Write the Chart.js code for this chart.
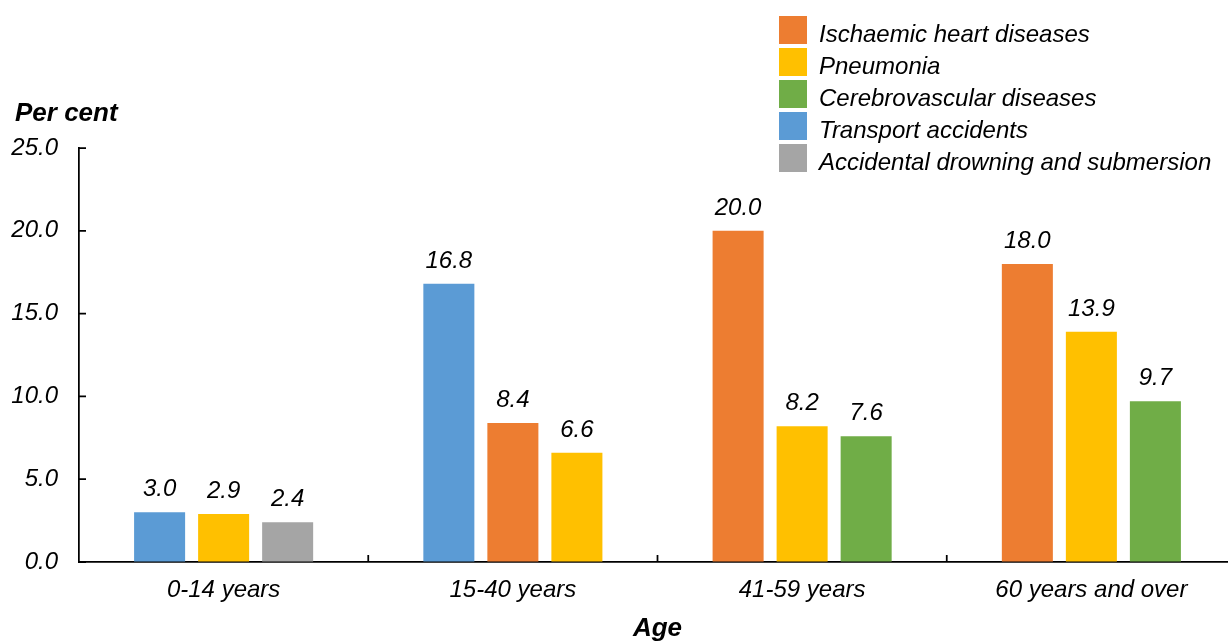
<!DOCTYPE html>
<html><head><meta charset="utf-8">
<script src="https://cdn.jsdelivr.net/npm/chart.js@4.4.1/dist/chart.umd.min.js"></script>
<style>
html,body{margin:0;padding:0;overflow:hidden;background:#fff;width:1228px;height:641px}
#wrap{position:relative;width:1236px;height:641px}
</style></head>
<body><div id="wrap"><canvas id="c"></canvas></div>
<script>
// ---- data ----
const categories = ['0-14 years', '15-40 years', '41-59 years', '60 years and over'];
const transportAccidents = [3.0, 16.8, null, null];
const ischaemicHeart = [null, 8.4, 20.0, 18.0];
const pneumonia = [2.9, 6.6, 8.2, 13.9];
const cerebrovascular = [null, null, 7.6, 9.7];
const drowning = [2.4, null, null, null];
const yTicks = [0, 5, 10, 15, 20, 25];
const legendOrder = ['Ischaemic heart diseases', 'Pneumonia', 'Cerebrovascular diseases', 'Transport accidents', 'Accidental drowning and submersion'];

const FONT = '"Liberation Sans", Arial, sans-serif';
Chart.defaults.color = '#000';
Chart.defaults.font.family = FONT;

const mk = (label, data, color) => ({label, data, backgroundColor: color, borderWidth: 0, skipNull: true,
  barPercentage: 0.797, categoryPercentage: 0.664});

const datasets = [
  mk('Transport accidents', transportAccidents, '#5B9BD5'),
  mk('Ischaemic heart diseases', ischaemicHeart, '#ED7D31'),
  mk('Pneumonia', pneumonia, '#FFC000'),
  mk('Cerebrovascular diseases', cerebrovascular, '#70AD47'),
  mk('Accidental drowning and submersion', drowning, '#A5A5A5')
];

const LEGEND_PAD = 22;
const legendPlacer = {
  id: 'legendPlacer',
  afterLayout(chart) {
    const lg = chart.legend;
    if (lg) {
      const dx = (779 - LEGEND_PAD) - lg.left, dy = (16 - LEGEND_PAD) - lg.top;
      lg.left += dx; lg.right += dx; lg.top += dy; lg.bottom += dy;
    }
    const tb = chart.titleBlock;
    if (tb) { tb.left += 15; tb.right += 15; }
  }
};

const valueLabels = {
  id: 'valueLabels',
  afterDatasetsDraw(chart) {
    const ctx = chart.ctx;
    ctx.save();
    ctx.font = 'italic 24px ' + FONT;
    ctx.fillStyle = '#000';
    ctx.textAlign = 'center';
    ctx.textBaseline = 'alphabetic';
    chart.data.datasets.forEach((ds, di) => {
      const meta = chart.getDatasetMeta(di);
      meta.data.forEach((bar, i) => {
        const v = ds.data[i];
        if (v === null || v === undefined) return;
        ctx.fillText(v.toFixed(1), bar.x, bar.y - 16);
      });
    });
    ctx.restore();
  }
};

const innerTicks = {
  id: 'innerTicks',
  afterDraw(chart) {
    const ctx = chart.ctx, x = chart.scales.x, y = chart.scales.y, a = chart.chartArea;
    ctx.save();
    ctx.strokeStyle = '#000';
    ctx.lineWidth = 1.75;
    ctx.beginPath();
    yTicks.forEach(v => {
      const py = y.getPixelForValue(v);
      ctx.moveTo(a.left, py); ctx.lineTo(a.left + 7, py);
    });
    for (let i = 0; i < categories.length; i++) {
      const px = (x.getPixelForTick(i) + (i + 1 < categories.length ? x.getPixelForTick(i + 1) : 2 * x.getPixelForTick(i) - x.getPixelForTick(i - 1))) / 2;
      ctx.moveTo(px, a.bottom); ctx.lineTo(px, a.bottom - 7);
    }
    ctx.stroke();
    ctx.restore();
  }
};

new Chart(document.getElementById('c'), {
  type: 'bar',
  data: {labels: categories, datasets},
  options: {
    responsive: true,
    maintainAspectRatio: false,
    animation: false,
    layout: {padding: {left: 0, top: 0, right: 0, bottom: 0}},
    plugins: {
      title: {display: true, text: 'Per cent', align: 'start',
        font: {size: 26, weight: 'bold', style: 'italic', family: FONT}, color: '#000',
        padding: {top: 98, bottom: 18.8}},
      legend: {
        position: 'chartArea', align: 'start',
        labels: {boxWidth: 28, boxHeight: 28, padding: LEGEND_PAD, color: '#000',
          font: {size: 24, style: 'italic', family: FONT, lineHeight: '5px'},
          generateLabels: (chart) => {
            const items = Chart.defaults.plugins.legend.labels.generateLabels(chart);
            items.sort((a, b) => legendOrder.indexOf(a.text) - legendOrder.indexOf(b.text));
            items.forEach(it => { it.text = ['', it.text]; });
            return items;
          }}
      },
      tooltip: {enabled: false}
    },
    scales: {
      x: {
        grid: {display: true, drawOnChartArea: false, drawTicks: false},
        border: {display: true, color: '#000', width: 1.75},
        ticks: {font: {size: 24, style: 'italic', family: FONT}, color: '#000', padding: 14, maxRotation: 0},
        title: {display: true, text: 'Age', font: {size: 26, weight: 'bold', style: 'italic', family: FONT}, color: '#000', padding: {top: 0, bottom: -3}},
        afterFit: s => { s.height = 79; }
      },
      y: {
        min: 0, max: 25,
        grid: {display: true, drawOnChartArea: false, drawTicks: false},
        border: {display: true, color: '#000', width: 1.75},
        ticks: {stepSize: 5, padding: 21, font: {size: 24, style: 'italic', family: FONT}, color: '#000',
          callback: v => Number(v).toFixed(1)},
        afterFit: s => { s.width = 79; }
      }
    }
  },
  plugins: [legendPlacer, valueLabels, innerTicks]
});
</script>
</body></html>
